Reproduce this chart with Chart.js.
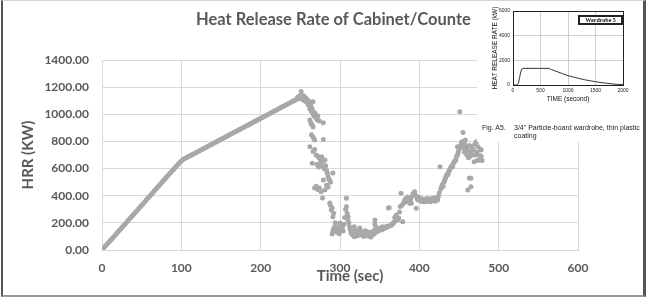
<!DOCTYPE html>
<html>
<head>
<meta charset="utf-8">
<script src="https://cdn.jsdelivr.net/npm/chart.js@4.4.1/dist/chart.umd.min.js"></script>
<style>
  html, body { margin: 0; padding: 0; background: #fff; }
  #wrap { position: relative; width: 654px; height: 297px; overflow: hidden; background: #fff; }
  #main { position: absolute; left: 0; top: 0; }
  #insetBox { position: absolute; left: 477px; top: 0; width: 168px; height: 142px; background: #fff; }
  #inset { position: absolute; left: 0; top: 0; }
  .cap { position: absolute; font-family: "Liberation Sans", Arial, sans-serif; font-size: 7px; color: #222; white-space: nowrap; line-height: 8px; }
  #frame { position: absolute; left: 1px; top: 0; width: 640px; height: 294px;
           border-left: 2px solid #555; border-right: 3px solid #555;
           border-top: 1px solid #d4d4d4; border-bottom: 2px solid #9a9a9a; pointer-events: none; }
</style>
</head>
<body>
<div id="wrap">
  <canvas id="main" width="654" height="297"></canvas>
  <div id="insetBox">
    <canvas id="inset" width="168" height="142"></canvas>
    <div class="cap" style="left:5px; top:124px;">Fig. A5.</div>
    <div class="cap" style="left:37px; top:124px;">3/4" Particle-board wardrobe, thin plastic<br>coating</div>
  </div>
  <div id="frame"></div>
</div>
<script>
// ---------- main chart data ----------
const chartTitle = "Heat Release Rate of Cabinet/Counte";
const xAxisTitle = "Time (sec)";
const yAxisTitle = "HRR (KW)";
const xTicks = [0, 100, 200, 300, 400, 500, 600];
const yTicks = [0, 200, 400, 600, 800, 1000, 1200, 1400];

const timeSec = [
  0,2,4,6,8,10,12,14,16,18,20,22,24,26,28,30,32,34,36,38,40,42,44,46,48,50,
  52,54,56,58,60,62,64,66,68,70,72,74,76,78,80,82,84,86,88,90,92,94,96,98,100,
  102,104,106,108,110,112,114,116,118,120,122,124,126,128,130,132,134,136,138,140,
  142,144,146,148,150,152,154,156,158,160,162,164,166,168,170,172,174,176,178,180,
  182,184,186,188,190,192,194,196,198,200,202,204,206,208,210,212,214,216,218,220,
  222,224,226,228,230,232,234,236,238,240,242,244,246,248,250,
  246,247,248,249,250,251,251,252,252,253,254,254,255,256,256,257,258,258,259,260,
  260,261,262,262,263,264,264,265,266,266,267,268,269,270,270,271,272,274,279,
  262,263,264,265,266,264,266,267,268,279,262,266,268,270,272,274,276,277,278,279,
  265,271,273,275,280,281,282,283,284,285,286,287,288,291,279,268,270,272,274,281,
  283,285,276,278,287,288,289,290,291,292,293,294,290,291,292,295,296,297,298,299,
  300,301,302,303,304,305,306,307,308,308,309,310,310,311,312,313,314,315,316,317,
  318,318,319,320,321,322,323,324,325,326,327,328,329,330,331,332,333,334,335,336,
  337,338,339,340,341,342,343,344,344,345,346,347,348,349,350,351,352,353,354,355,
  356,357,358,359,360,361,362,363,364,365,366,367,368,369,370,371,372,373,374,375,
  376,377,378,379,380,381,382,383,384,385,386,387,388,389,390,391,392,393,394,395,
  396,397,398,399,400,401,402,403,404,405,406,407,408,409,410,411,412,413,414,415,
  416,417,418,419,420,421,422,423,424,425,426,427,428,429,430,431,432,433,434,435,
  436,437,438,439,440,441,442,443,444,445,446,447,448,448,449,450,451,451,452,453,
  454,455,455,456,457,457,458,459,460,460,461,462,462,463,463,464,465,465,465,466,
  467,468,469,470,471,472,472,473,474,475,476,477,478,478,479
];
const hrrKW = [
  2,14,27,40,53,66,79,93,105,119,132,145,158,172,184,198,211,224,238,250,264,277,290,304,316,330,
  343,356,370,383,396,409,422,436,449,462,475,488,502,515,528,541,554,568,581,594,606,619,632,645,656,
  667,672,680,685,692,697,704,710,716,723,728,735,741,747,754,759,766,772,778,785,
  790,797,803,809,816,821,828,834,840,848,853,858,865,871,877,884,889,896,902,908,
  915,920,927,933,939,946,951,958,964,970,977,982,989,995,1001,1008,1013,1020,1026,1032,
  1039,1044,1051,1057,1063,1070,1075,1082,1088,1094,1101,1106,1113,1118,1124,
  1118,1128,1122,1135,1130,1167,1140,1126,1112,1138,1120,1105,1132,1110,1098,1118,1100,1090,1108,1085,
  1070,1095,1060,1040,1075,1050,1020,1035,1093,1008,990,1012,980,995,972,960,985,950,938,
  958,940,925,921,906,850,835,822,810,815,761,725,740,700,690,676,660,688,650,614,
  639,630,612,640,600,663,620,585,565,540,520,516,500,567,516,457,470,445,457,442,
  478,464,430,383,346,330,295,309,245,270,170,200,118,140,152,172,130,162,150,120,
  199,180,147,165,140,190,240,300,381,319,270,221,246,200,172,150,123,140,110,128,
  98,172,115,140,125,105,132,145,162,120,110,135,125,100,118,142,135,115,128,102,
  130,120,95,112,128,140,118,221,190,170,150,135,145,160,155,148,165,150,172,160,
  158,168,165,175,170,309,312,180,178,185,192,197,205,240,215,258,222,225,235,280,
  320,418,330,209,345,360,375,368,355,390,380,362,345,372,344,398,410,420,430,405,
  307,380,370,388,365,372,360,378,368,355,370,362,375,358,368,380,362,372,355,368,
  378,381,365,372,360,385,370,368,395,420,614,450,466,480,470,500,516,530,545,560,
  555,575,590,600,612,620,614,640,650,660,663,690,700,761,720,740,1019,760,770,790,
  800,865,780,750,786,720,810,760,700,740,442,680,720,530,770,690,466,725,528,760,
  700,740,650,780,700,798,720,660,760,700,663,740,737,690,660
];

// ---------- inset chart data ----------
const insetTime = [0, 60, 80, 100, 120, 140, 160, 180, 650, 700, 800, 900, 1000, 1100, 1200, 1300, 1400, 1500, 1600, 1700, 1800, 1900, 2000];
const insetHRR  = [0, 0, 30, 180, 600, 1050, 1300, 1350, 1350, 1250, 1080, 920, 760, 640, 530, 430, 340, 270, 200, 140, 90, 50, 20];
const insetXTicks = [0, 500, 1000, 1500, 2000];
const insetYTicks = [0, 2000, 4000, 6000];
const insetLegend = "Wardrobe 5";
const insetXTitle = "TIME (second)";
const insetYTitle = "HEAT RELEASE RATE (kW)";

const gray = '#595959';
const mainFont = 'Lato, "Open Sans", sans-serif';

const points = timeSec.map((t, i) => ({ x: t, y: hrrKW[i] }));

const textPlugin = {
  id: 'texts',
  afterDraw(chart) {
    const ctx = chart.ctx;
    ctx.save();
    ctx.fillStyle = gray;
    ctx.textBaseline = 'middle';
    ctx.font = 'bold 16.5px ' + mainFont;
    ctx.textAlign = 'left';
    ctx.fillText(chartTitle, 196, 20);
    ctx.font = 'bold 15px ' + mainFont;
    ctx.textAlign = 'center';
    ctx.fillText(xAxisTitle, 350, 276);
    ctx.translate(28, 155);
    ctx.rotate(-Math.PI / 2);
    ctx.fillText(yAxisTitle, 0, 0);
    ctx.restore();
  }
};

new Chart(document.getElementById('main'), {
  type: 'scatter',
  data: { datasets: [{ data: points, backgroundColor: '#a8a8a8', borderWidth: 0, pointRadius: 2.5, pointHoverRadius: 2.5 }] },
  options: {
    responsive: false, animation: false, events: [],
    layout: { padding: { left: 0, right: 76, top: 60, bottom: 0 } },
    plugins: { legend: { display: false }, tooltip: { enabled: false }, title: { display: false } },
    scales: {
      x: {
        type: 'linear', min: 0, max: 600,
        afterBuildTicks: s => { s.ticks = xTicks.map(v => ({ value: v })); },
        afterFit: s => { s.height = 47; },
        grid: { color: '#d9d9d9', drawTicks: false },
        border: { color: '#d9d9d9' },
        ticks: { color: gray, font: { family: mainFont, size: 12, weight: 'bold' }, padding: 11, maxRotation: 0, callback: v => String(v) }
      },
      y: {
        type: 'linear', min: 0, max: 1400,
        afterBuildTicks: s => { s.ticks = yTicks.map(v => ({ value: v })); },
        afterFit: s => { s.width = 102; },
        grid: { color: '#d9d9d9', drawTicks: false },
        border: { display: false },
        ticks: { color: gray, font: { family: mainFont, size: 12, weight: 'bold' }, padding: 13, callback: v => Number(v).toFixed(2) }
      }
    }
  },
  plugins: [textPlugin]
});

const insetPlugin = {
  id: 'insetTexts',
  afterDraw(chart) {
    const ctx = chart.ctx;
    const a = chart.chartArea;
    ctx.save();
    ctx.strokeStyle = '#222';
    ctx.lineWidth = 1;
    ctx.strokeRect(Math.round(a.left) + 0.5, Math.round(a.top) + 0.5, Math.round(a.right - a.left), Math.round(a.bottom - a.top));
    ctx.fillStyle = '#fff';
    ctx.fillRect(101, 15, 44, 9);
    ctx.strokeRect(101.5, 15.5, 44, 9);
    ctx.strokeRect(102.5, 16.5, 42, 7);
    ctx.fillStyle = '#111';
    ctx.font = 'bold 6px "Liberation Serif", serif';
    ctx.textAlign = 'center';
    ctx.textBaseline = 'middle';
    ctx.fillText(insetLegend, 123.5, 20.3);
    ctx.font = '6.5px "Liberation Sans", Arial, sans-serif';
    ctx.fillText(insetXTitle, (a.left + a.right) / 2, 99);
    ctx.translate(18, (a.top + a.bottom) / 2);
    ctx.rotate(-Math.PI / 2);
    ctx.fillText(insetYTitle, 0, 0);
    ctx.restore();
  }
};

new Chart(document.getElementById('inset'), {
  type: 'scatter',
  data: { datasets: [{ data: insetTime.map((t, i) => ({ x: t, y: insetHRR[i] })), showLine: true, borderColor: '#333', borderWidth: 1, pointRadius: 0, tension: 0 }] },
  options: {
    responsive: false, animation: false, events: [],
    layout: { padding: { left: 0, right: 22, top: 11, bottom: 0 } },
    plugins: { legend: { display: false }, tooltip: { enabled: false } },
    scales: {
      x: {
        type: 'linear', min: 0, max: 2000,
        afterBuildTicks: s => { s.ticks = insetXTicks.map(v => ({ value: v })); },
        afterFit: s => { s.height = 57; },
        grid: { color: '#c4c4c4', drawTicks: false, lineWidth: 0.8 },
        border: { display: false },
        ticks: { color: '#222', font: { family: '"Liberation Sans", Arial, sans-serif', size: 5 }, padding: 3, maxRotation: 0, callback: v => String(v) }
      },
      y: {
        type: 'linear', min: 0, max: 6000,
        afterBuildTicks: s => { s.ticks = insetYTicks.map(v => ({ value: v })); },
        afterFit: s => { s.width = 36; },
        grid: { color: '#c4c4c4', drawTicks: false, lineWidth: 0.8 },
        border: { display: false },
        ticks: { color: '#222', font: { family: '"Liberation Sans", Arial, sans-serif', size: 5 }, padding: 3, callback: v => String(v) }
      }
    }
  },
  plugins: [insetPlugin]
});
</script>
</body>
</html>
